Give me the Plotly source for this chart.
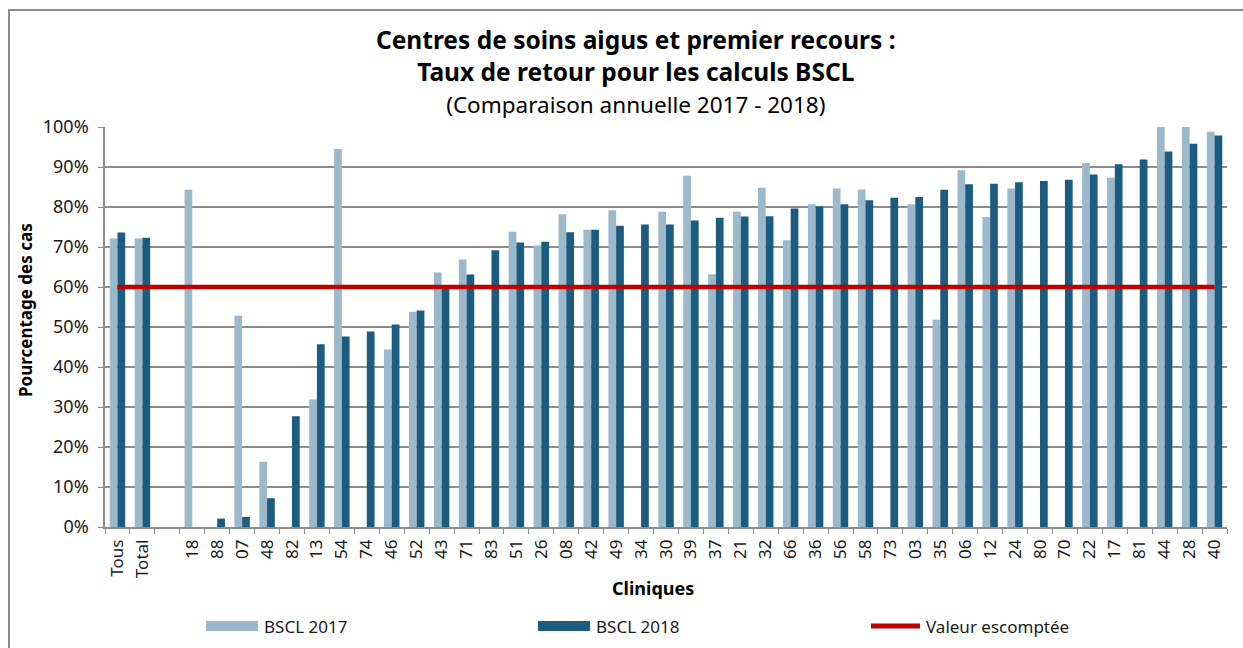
import plotly.graph_objects as go

categories = ["Tous", "Total", " ", "18", "88", "07", "48", "82", "13", "54", "74", "46", "52", "43",
              "71", "83", "51", "26", "08", "42", "49", "34", "30", "39", "37", "21", "32", "66",
              "36", "56", "58", "73", "03", "35", "06", "12", "24", "80", "70", "22", "17", "81",
              "44", "28", "40"]

bscl_2017 = [72.1, 72.1, None, 84.3, None, 52.8, 16.3, None, 31.9, 94.5, None, 44.4, 53.8, 63.6,
             66.9, None, 73.8, 70.4, 78.2, 74.3, 79.2, None, 78.8, 87.8, 63.2, 78.8, 84.8, 71.7,
             80.7, 84.6, 84.4, None, 80.7, 51.8, 89.2, 77.5, 84.6, None, None, 91.0, 87.3, None,
             100.0, 100.0, 98.8]

bscl_2018 = [73.6, 72.3, None, None, 2.1, 2.5, 7.2, 27.7, 45.7, 47.6, 48.9, 50.6, 54.1, 60.3,
             63.1, 69.2, 71.1, 71.3, 73.7, 74.3, 75.3, 75.6, 75.6, 76.6, 77.3, 77.6, 77.7, 79.6,
             80.2, 80.7, 81.7, 82.3, 82.5, 84.3, 85.7, 85.8, 86.2, 86.5, 86.8, 88.1, 90.7, 91.9,
             93.9, 95.8, 97.9]

expected_value = 60

C17 = "#9BB9CA"
C18 = "#1B5C80"
CRED = "#C00000"
GRID = "#8C8C8C"
FONT = "Noto Sans"
TXT = "#1a1a1a"

W, H = 1243, 648
L, R, T, B = 105, 1227, 127, 527


def px(x):
    return (x - L) / (R - L)


def py(y):
    return (B - y) / (B - T)


fig = go.Figure()
fig.add_trace(go.Bar(x=categories, y=bscl_2017, name="BSCL 2017", marker_color=C17,
                     marker_line_width=0, showlegend=False))
fig.add_trace(go.Bar(x=categories, y=bscl_2018, name="BSCL 2018", marker_color=C18,
                     marker_line_width=0, showlegend=False))
fig.add_trace(go.Scatter(x=categories, y=[expected_value] * len(categories), mode="lines",
                         name="Valeur escomptée", line=dict(color=CRED, width=4.5),
                         showlegend=False))

title_text = ("<span style='font-size:24.5px'><b>Centres de soins aigus et premier recours :</b></span><br>"
              "<span style='font-size:24.5px'><b>Taux de retour pour les calculs BSCL</b></span><br>"
              "<span style='font-size:22.5px'>(Comparaison annuelle 2017 - 2018)</span>")

annotations = [
    dict(text=title_text, x=px(636), y=py(71),
         font=dict(family=FONT, size=24.5, color="black")),
    dict(text="<b>Cliniques</b>", x=px(653), y=py(588),
         font=dict(family=FONT, size=18, color="black")),
    dict(text="<b>Pourcentage des cas</b>", x=px(25), y=py(310), textangle=-90,
         font=dict(family=FONT, size=17, color="black")),
]
for a in annotations:
    a.update(xref="paper", yref="paper", showarrow=False, xanchor="center", yanchor="middle")

# manual legend
legend_items = [("BSCL 2017", C17, 206), ("BSCL 2018", C18, 538), ("Valeur escomptée", CRED, 868)]
shapes = []
for name, col, x0 in legend_items:
    if name == "Valeur escomptée":
        shapes.append(dict(type="line", xref="paper", yref="paper", x0=px(x0 + 3), x1=px(x0 + 52),
                           y0=py(626), y1=py(626), line=dict(color=CRED, width=5)))
    else:
        shapes.append(dict(type="rect", xref="paper", yref="paper", x0=px(x0), x1=px(x0 + 52),
                           y0=py(631), y1=py(621), fillcolor=col, line=dict(width=0)))
    annotations.append(dict(text=name, x=px(x0 + 56), y=py(626), xref="paper", yref="paper",
                            showarrow=False, xanchor="left", yanchor="middle",
                            font=dict(family=FONT, size=17, color=TXT)))

# outer border
shapes.append(dict(type="rect", xref="paper", yref="paper", x0=px(9), x1=px(1260), y0=py(10),
                   y1=py(660), line=dict(color="#8C8C8C", width=2), fillcolor="rgba(0,0,0,0)",
                   layer="below"))

fig.update_layout(
    width=W, height=H,
    margin=dict(l=L, r=W - R, t=T, b=H - B, autoexpand=False),
    plot_bgcolor="white", paper_bgcolor="white",
    barmode="group", bargap=0.38, bargroupgap=0,
    font=dict(family=FONT, size=17, color=TXT),
    annotations=annotations, shapes=shapes,
    xaxis=dict(type="category", categoryorder="array", categoryarray=categories,
               tickangle=-90, tickfont=dict(size=17, color=TXT), ticklabelstandoff=4,
               showline=True, linecolor=GRID, linewidth=1.5,
               ticks="outside", tickson="boundaries", ticklen=5, tickcolor=GRID,
               showgrid=False, range=[-0.5, len(categories) - 0.5]),
    yaxis=dict(range=[0, 100], dtick=10, ticksuffix="%", tickfont=dict(size=18, color=TXT),
               ticklabelstandoff=6,
               showline=True, linecolor=GRID, linewidth=1.5,
               ticks="outside", ticklen=5, tickcolor=GRID,
               showgrid=True, gridcolor=GRID, gridwidth=1.5, zeroline=False),
)

fig.write_html("out.html", config={"displayModeBar": False},
               post_script="document.body.style.margin='0px';")
